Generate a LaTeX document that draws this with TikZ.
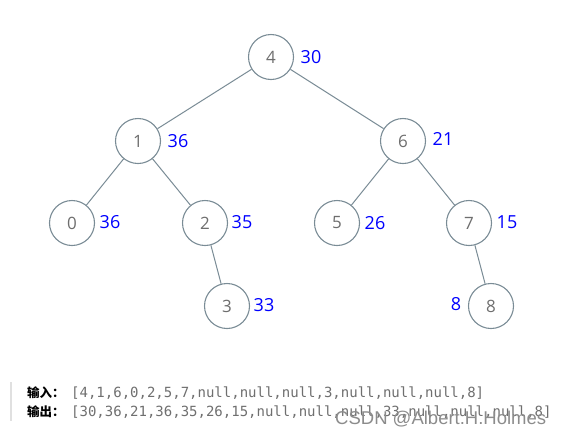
\documentclass[tikz,border=0pt]{standalone}
\usepackage{fontspec}
\setmainfont{Open Sans}
\setmonofont{DejaVu Sans Mono}
\newfontfamily\cjk{Noto Sans CJK SC}
\newfontfamily\wmfont{Liberation Sans}
\definecolor{edgec}{HTML}{7A8C96}
\definecolor{numc}{HTML}{6E6E6E}
\definecolor{lblc}{HTML}{0000FF}
\definecolor{codec}{HTML}{6F6F6F}
\begin{document}
\begin{tikzpicture}[x=1pt,y=-1pt,
  tnode/.style={circle,draw=edgec,line width=1.1pt,minimum size=45pt,inner sep=0pt,text=numc,font=\fontsize{17}{17}\selectfont},
  lbl/.style={text=lblc,font=\fontsize{18}{18}\selectfont,inner sep=0pt},
  conn/.style={draw=edgec,line width=1pt},
  code/.style={anchor=west,inner sep=0pt,text=codec,font=\ttfamily\fontsize{14}{14}\selectfont},
  head/.style={anchor=west,inner sep=0pt,font=\cjk\bfseries\fontsize{12.5}{13}\selectfont}]
\useasboundingbox (0,0) rectangle (564,437);
\fill[white] (0,0) rectangle (564,437);
\node[tnode] (n4) at (271,57) {4};
\node[tnode] (n1) at (138,141) {1};
\node[tnode] (n6) at (403,141) {6};
\node[tnode] (n0) at (72,223) {0};
\node[tnode] (n2) at (205,223) {2};
\node[tnode] (n5) at (337,223) {5};
\node[tnode] (n7) at (469,223) {7};
\node[tnode] (n3) at (227,306) {3};
\node[tnode] (n8) at (491,306) {8};
\draw[conn] (n4) -- (n1);
\draw[conn] (n4) -- (n6);
\draw[conn] (n1) -- (n0);
\draw[conn] (n1) -- (n2);
\draw[conn] (n6) -- (n5);
\draw[conn] (n6) -- (n7);
\draw[conn] (n2) -- (n3);
\draw[conn] (n7) -- (n8);
\node[lbl] (l4) at (311,57) {30};
\node[lbl] (l1) at (178,141) {36};
\node[lbl] (l6) at (443,139) {21};
\node[lbl] (l0) at (110,222) {36};
\node[lbl] (l2) at (242,222) {35};
\node[lbl] (l5) at (375,223) {26};
\node[lbl] (l7) at (507,222) {15};
\node[lbl] (l3) at (264,305) {33};
\node[lbl] (l8) at (456,304) {8};
\fill[black!12] (10,382) rectangle (11.5,421);
\node[head] (h1) at (27,393) {输入：};
\node[head] (h2) at (27,412) {输出：};
\node[code] (c1) at (71,393) {[4,1,6,0,2,5,7,null,null,null,3,null,null,null,8]};
\node[code] (c2) at (71,412) {[30,36,21,36,35,26,15,null,null,null,33,null,null,null,8]};
\node[anchor=west,inner sep=0pt,text=black!45,font=\wmfont\fontsize{18.5}{18.5}\selectfont] (wm) at (335,419) {CSDN @Albert.H.Holmes};
\end{tikzpicture}
\end{document}
